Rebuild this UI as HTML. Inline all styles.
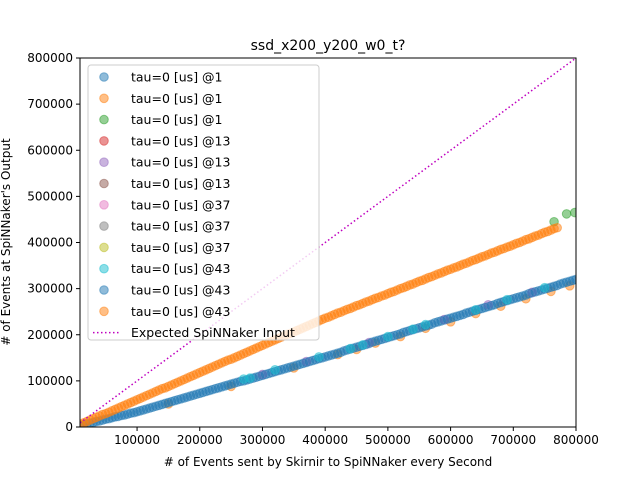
<!DOCTYPE html>
<html><head><meta charset="utf-8"><style>
body{margin:0;background:#fff}
svg{display:block;font-family:"DejaVu Sans","Liberation Sans",sans-serif}
</style></head><body>
<svg id="chart" width="640" height="480" viewBox="0 0 640 480">
<rect width="640" height="480" fill="#fff"/>
<text x="328" y="50" font-size="14" text-anchor="middle">ssd_x200_y200_w0_t?</text>
<g id="marks"></g>
<g id="axes"></g>
<text x="328" y="466" font-size="12" text-anchor="middle"># of Events sent by Skirnir to SpiNNaker every Second</text>
<text transform="translate(10,242) rotate(-90)" font-size="12" text-anchor="middle"># of Events at SpiNNaker's Output</text>
<g id="legend"></g>
</svg>
<script>
// values in thousands of events
const upperX=[10,20,30,40,50,60,70,80,90,100,110,120,130,140,150,160,170,180,190,200,210,220,230,240,250,260,270,280,290,300,310,320,330,340,350,360,370,380,390,400,410,420,430,440,450,460,470,480,490,500,510,520,530,540,550,560,570,580,590,600,610,620,630,640,650,660,670,680,690,700,710,720,730,740,750,760,770];
const upperY=[6,12,18,24,29,35,41,47,53,59,65,71,77,83,88,94,100,106,112,118,124,130,136,142,147,153,159,165,171,177,183,189,195,201,206,212,218,224,230,236,241,247,252,257,263,268,273,279,284,289,294,300,305,310,316,321,326,332,337,342,347,353,358,363,369,374,379,385,390,395,400,406,411,416,422,427,432];
const upper2X=[15,25,35,45,55,65,75,85,95,105,115,125,135,145,155,165,175,185,195,205,215,225,235,245,255,265,275,285,295,305,315,325,335,345,355,365,375,385,395,405,415,425,435,445,455,465,475,485,495,505,515,525,535,545,555,565,575,585,595,605,615,625,635,645,655,665,675,685,695,705,715,725,735,745,755,765];
const upper2Y=[9,15,21,27,32,38,44,50,56,62,68,74,80,85,91,97,103,109,115,121,127,133,139,145,150,156,162,168,174,180,186,192,198,203,209,215,221,227,233,238,244,249,255,260,265,271,276,281,286,292,297,302,308,313,318,324,329,334,340,345,350,355,361,366,371,377,382,387,392,398,403,408,414,419,424,430];
const lowerX=[10,20,30,40,50,60,70,80,90,100,110,120,130,140,150,160,170,180,190,200,210,220,230,240,250,260,270,280,290,300,310,320,330,340,350,360,370,380,390,400,410,420,430,440,450,460,470,480,490,500,510,520,530,540,550,560,570,580,590,600,610,620,630,640,650,660,670,680,690,700,710,720,730,740,750,760,770,780,790,800];
const lowerY=[3,7,10,13,17,20,23,26,30,33,37,41,45,49,53,57,61,65,69,73,77,81,85,89,93,97,100,104,108,112,116,120,124,128,132,136,140,144,148,152,156,160,165,169,173,177,181,186,190,194,198,202,207,211,215,219,223,228,232,236,240,244,249,253,257,261,265,270,274,278,282,286,291,295,299,303,307,312,316,320];
const lower2X=[15,25,35,45,55,65,75,85,95,105,115,125,135,145,155,165,175,185,195,205,215,225,235,245,255,265,275,285,295,305,315,325,335,345,355,365,375,385,395,405,415,425,435,445,455,465,475,485,495,505,515,525,535,545,555,565,575,585,595,605,615,625,635,645,655,665,675,685,695,705,715,725,735,745,755,765,775,785,795];
const lower2Y=[5,8,12,15,18,22,25,28,31,35,39,43,47,51,55,59,63,67,71,75,79,83,87,91,95,99,102,106,110,114,118,122,126,130,134,138,142,146,150,154,158,162,167,171,175,179,184,188,192,196,200,205,209,213,217,221,226,230,234,238,242,247,251,255,259,263,268,272,276,280,284,289,293,297,301,305,310,314,318];
const lowerOrangeX=[150,250,350,450,520,600,680,720,760,790,420,480,560,640];
const lowerOrangeY=[50,88,128,168,196,228,262,278,294,306,157,182,214,246];
const cyanX=[270,320,390,440,500,560,640,750,280,460,540,690];
const cyanY=[104,124,152,170,196,222,254,302,106,178,212,276];
const purpleX=[300,370,470,590,660,730];
const purpleY=[114,142,183,233,265,292];
const greenX=[765,785,798];
const greenY=[445,462,465];
const xTicks=[100000,200000,300000,400000,500000,600000,700000,800000];
const yTicks=[0,100000,200000,300000,400000,500000,600000,700000,800000];
const legendLabels=["tau=0 [us] @1","tau=0 [us] @1","tau=0 [us] @1","tau=0 [us] @13","tau=0 [us] @13","tau=0 [us] @13","tau=0 [us] @37","tau=0 [us] @37","tau=0 [us] @37","tau=0 [us] @43","tau=0 [us] @43","tau=0 [us] @43"];
const legendColors=["#1f77b4","#ff7f0e","#2ca02c","#d62728","#9467bd","#8c564b","#e377c2","#7f7f7f","#bcbd22","#17becf","#1f77b4","#ff7f0e"];

const L=80,R=576,T=58,B=427,XMIN=9000,XMAX=800000,YMIN=0,YMAX=800000;
const sx=v=>L+(v-XMIN)/(XMAX-XMIN)*(R-L);
const sy=v=>B-(v-YMIN)/(YMAX-YMIN)*(B-T);
const NS="http://www.w3.org/2000/svg";
const marks=document.getElementById('marks'),axes=document.getElementById('axes'),leg=document.getElementById('legend');
function mk(t,a,p){const e=document.createElementNS(NS,t);for(const k in a)e.setAttribute(k,a[k]);p.appendChild(e);return e;}
const clip=mk('clipPath',{id:'pc'},marks);mk('rect',{x:L,y:T,width:R-L,height:B-T},clip);
const g=mk('g',{'clip-path':'url(#pc)'},marks);
function scatter(xs,ys,col,name){xs.forEach((x,i)=>{const c=mk('circle',{cx:sx(x*1000),cy:sy(ys[i]*1000),r:4.3,fill:col,'fill-opacity':0.5,stroke:col,'stroke-opacity':0.5},g);

});}
scatter(lowerOrangeX,lowerOrangeY,'#ff7f0e','lower-orange-point');
scatter(lowerX,lowerY,'#1f77b4','lower-blue-point');
scatter(purpleX,purpleY,'#9467bd','purple-point');
scatter(lower2X,lower2Y,'#1f77b4','lower-blue-point');
scatter(cyanX,cyanY,'#17becf','cyan-point');
scatter(greenX,greenY,'#2ca02c','green-point');
scatter(upperX,upperY,'#ff7f0e','upper-orange-point');
scatter(upper2X,upper2Y,'#ff7f0e','upper-orange-point');
const ln=mk('line',{x1:sx(XMIN),y1:sy(XMIN),x2:sx(XMAX),y2:sy(XMAX),stroke:'#bf00bf','stroke-width':1.5,'stroke-dasharray':'1.5,2.5'},g);


mk('rect',{x:L,y:T,width:R-L,height:B-T,fill:'none',stroke:'#000','stroke-width':1},axes);
xTicks.forEach(v=>{const x=sx(v);mk('line',{x1:x,y1:B,x2:x,y2:B+4,stroke:'#000'},axes);
const t=mk('text',{x:x,y:B+17,'font-size':12,'text-anchor':'middle'},axes);t.textContent=v;

});
yTicks.forEach(v=>{const y=sy(v);mk('line',{x1:L-4,y1:y,x2:L,y2:y,stroke:'#000'},axes);
const t=mk('text',{x:L-7,y:y+4,'font-size':12,'text-anchor':'end'},axes);t.textContent=v;

});
mk('rect',{x:88,y:65,width:231,height:275,rx:3,fill:'#fff','fill-opacity':0.8,stroke:'#ccc'},leg);
legendLabels.forEach((s,i)=>{const y=77+i*21.3;
mk('circle',{cx:104,cy:y,r:4.3,fill:legendColors[i],'fill-opacity':0.5,stroke:legendColors[i],'stroke-opacity':0.5},leg);
const t=mk('text',{x:131,y:y+4.5,'font-size':12.5},leg);t.textContent=s;

});
const ly=77+12*21.3;
mk('line',{x1:93,y1:ly,x2:120,y2:ly,stroke:'#bf00bf','stroke-width':1.5,'stroke-dasharray':'1.5,2.5'},leg);
const lt=mk('text',{x:131,y:ly+4.5,'font-size':12.5},leg);lt.textContent='Expected SpiNNaker Input';


</script>
</body></html>
